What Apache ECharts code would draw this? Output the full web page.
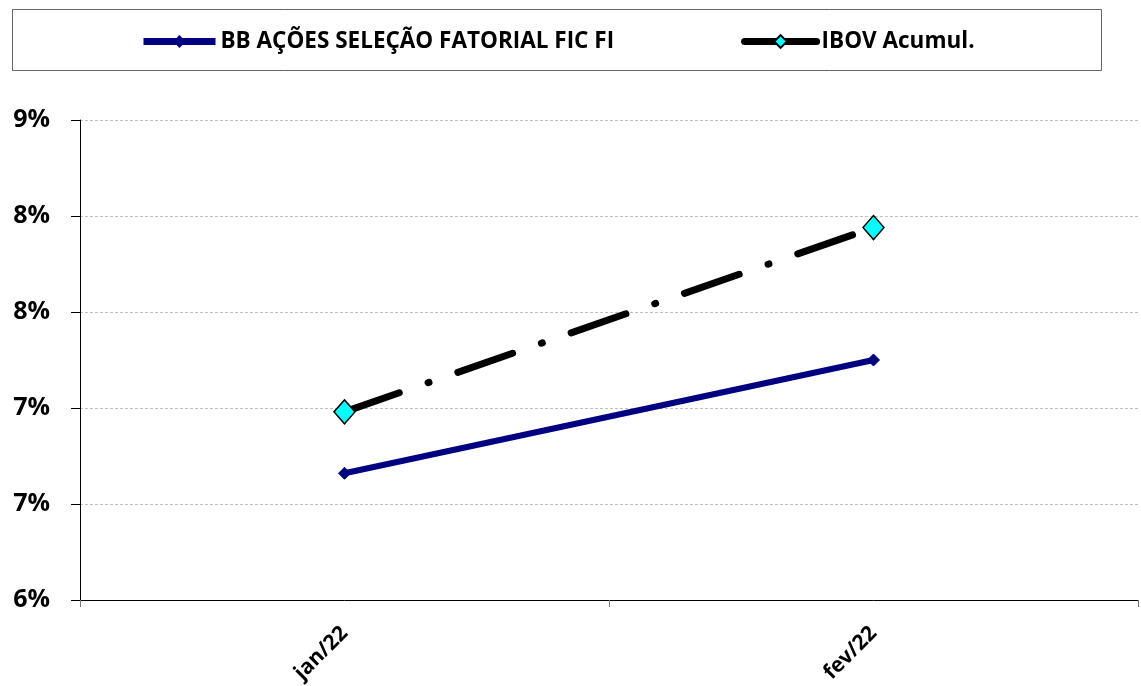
<!DOCTYPE html>
<html><head><meta charset="utf-8">
<script src="https://cdn.jsdelivr.net/npm/echarts@6/dist/echarts.min.js"></script>
<style>html,body{margin:0;padding:0;background:#fff}#c{width:1141px;height:686px}</style>
</head><body><div id="c"></div>
<script>
const categories = ['jan/22', 'fev/22'];
const bbValues = [6.66, 7.25];
const ibovValues = [6.98, 7.94];
const seriesNames = ['BB AÇÕES SELEÇÃO FATORIAL FIC FI', 'IBOV Acumul.'];

const FONT = '"Open Sans"';
const chart = echarts.init(document.getElementById('c'));
chart.setOption({
  animation: false,
  backgroundColor: '#fff',
  graphic: [{
    type: 'rect', left: 12, top: 9, z: -1,
    shape: { width: 1089, height: 61 },
    style: { fill: '#fff', stroke: '#666', lineWidth: 1 }
  }],
  legend: {
    top: 30, left: 140, padding: 0, itemGap: 127, itemWidth: 72, itemHeight: 16,
    textStyle: { fontFamily: FONT, fontWeight: 'bold', fontSize: 22.5, color: '#000' },
    data: [
      { name: seriesNames[0], lineStyle: { width: 7, type: 'solid' } },
      { name: seriesNames[1], lineStyle: { width: 7, type: 'solid' } }
    ]
  },
  grid: { left: 80, right: 3, top: 120, bottom: 86, containLabel: false },
  xAxis: {
    type: 'category', data: categories, boundaryGap: true,
    axisLine: { lineStyle: { color: '#000', width: 1 } },
    axisTick: { show: true, length: 7, lineStyle: { color: '#777' } },
    axisLabel: { rotate: 45, margin: 30, fontFamily: FONT, fontWeight: 'bold', fontSize: 21, color: '#000' }
  },
  yAxis: {
    type: 'value', min: 6, max: 8.5, interval: 0.5,
    axisLine: { show: true, lineStyle: { color: '#000', width: 1 } },
    axisTick: { show: true, length: 9, lineStyle: { color: '#000' } },
    splitLine: { show: true, lineStyle: { color: '#c0c0c0', type: [3, 2], width: 1 } },
    axisLabel: { margin: 30, fontFamily: FONT, fontWeight: 'bold', fontSize: 25, color: '#000',
      formatter: v => Math.round(v) + '%' }
  },
  series: [
    {
      name: seriesNames[0], type: 'line', data: bbValues,
      symbol: 'diamond', symbolSize: 12,
      lineStyle: { color: '#000080', width: 6 },
      itemStyle: { color: '#000080', borderColor: '#000080' }
    },
    {
      name: seriesNames[1], type: 'line', data: ibovValues,
      symbol: 'diamond', symbolSize: [21, 24],
      lineStyle: { color: '#000', width: 7, type: [58, 30.5, 1, 30.5], cap: 'round' },
      itemStyle: { color: '#00ffff', borderColor: '#000', borderWidth: 1.5 },
      z: 3
    }
  ]
});
</script>
</body></html>
